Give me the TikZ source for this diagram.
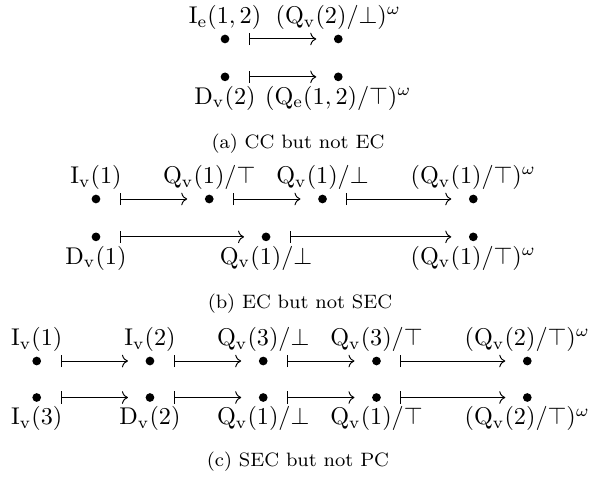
\documentclass[tikz,border=0pt]{standalone}
\usepackage{amsmath,amssymb}
\usetikzlibrary{positioning,arrows.meta}

\begin{document}
\begin{tikzpicture}[node distance=16.45mm,on grid,
  dot/.style={circle,fill,inner sep=0pt,minimum size=3.6pt},
  trans/.style={{Bar[width=5pt]}-{To},shorten <=7.9pt,shorten >=7.1pt},
  subcap/.style={font=\footnotesize},
  every label/.style={inner sep=1.6pt}]
\useasboundingbox (0,0) rectangle (85.98mm,-70.29mm);

% (a)
\node[dot,label=above:{$\mathrm{I_e}(1,2)$}] (a1) at (32.68mm,-5.66mm) {};
\node[dot,right=of a1,label=above:{$(\mathrm{Q_v}(2)/\bot)^\omega$}] (a2) {};
\node[dot,below=5.5mm of a1,label=below:{$\mathrm{D_v}(2)$}] (a3) {};
\node[dot,right=of a3,label=below:{$(\mathrm{Q_e}(1,2)/\top)^\omega$}] (a4) {};
\draw[trans] (a1) -- (a2);
\draw[trans] (a3) -- (a4);
\node[subcap] (capa) at (43.28mm,-20.91mm) {(a) CC but not EC};

% (b)
\node[dot,label=above:{$\mathrm{I_v}(1)$}] (b1) at (13.94mm,-28.90mm) {};
\node[dot,right=of b1,label=above:{$\mathrm{Q_v}(1)/\top$}] (b2) {};
\node[dot,right=of b2,label=above:{$\mathrm{Q_v}(1)/\bot$}] (b3) {};
\node[dot,right=21.9mm of b3,label=above:{$(\mathrm{Q_v}(1)/\top)^\omega$}] (b4) {};
\node[dot,below=5.5mm of b1,label=below:{$\mathrm{D_v}(1)$}] (b5) {};
\node[dot,right=24.7mm of b5,label=below:{$\mathrm{Q_v}(1)/\bot$}] (b6) {};
\node[dot,below=5.5mm of b4,label=below:{$(\mathrm{Q_v}(1)/\top)^\omega$}] (b7) {};
\foreach \s/\t in {b1/b2,b2/b3,b3/b4,b5/b6,b6/b7}
  \draw[trans] (\s) -- (\t);
\node[subcap] (capb) at (43.57mm,-44.15mm) {(b) EC but not SEC};

% (c)
\node[dot,label=above:{$\mathrm{I_v}(1)$}] (c1) at (5.33mm,-52.43mm) {};
\node[dot,right=of c1,label=above:{$\mathrm{I_v}(2)$}] (c2) {};
\node[dot,right=of c2,label=above:{$\mathrm{Q_v}(3)/\bot$}] (c3) {};
\node[dot,right=of c3,label=above:{$\mathrm{Q_v}(3)/\top$}] (c4) {};
\node[dot,right=21.9mm of c4,label=above:{$(\mathrm{Q_v}(2)/\top)^\omega$}] (c5) {};
\node[dot,below=5.3mm of c1,label=below:{$\mathrm{I_v}(3)$}] (c6) {};
\node[dot,right=of c6,label=below:{$\mathrm{D_v}(2)$}] (c7) {};
\node[dot,right=of c7,label=below:{$\mathrm{Q_v}(1)/\bot$}] (c8) {};
\node[dot,right=of c8,label=below:{$\mathrm{Q_v}(1)/\top$}] (c9) {};
\node[dot,right=21.9mm of c9,label=below:{$(\mathrm{Q_v}(2)/\top)^\omega$}] (c10) {};
\foreach \s/\t in {c1/c2,c2/c3,c3/c4,c4/c5,c6/c7,c7/c8,c8/c9,c9/c10}
  \draw[trans] (\s) -- (\t);
\node[subcap] (capc) at (43.28mm,-67.10mm) {(c) SEC but not PC};
\end{tikzpicture}
\end{document}
